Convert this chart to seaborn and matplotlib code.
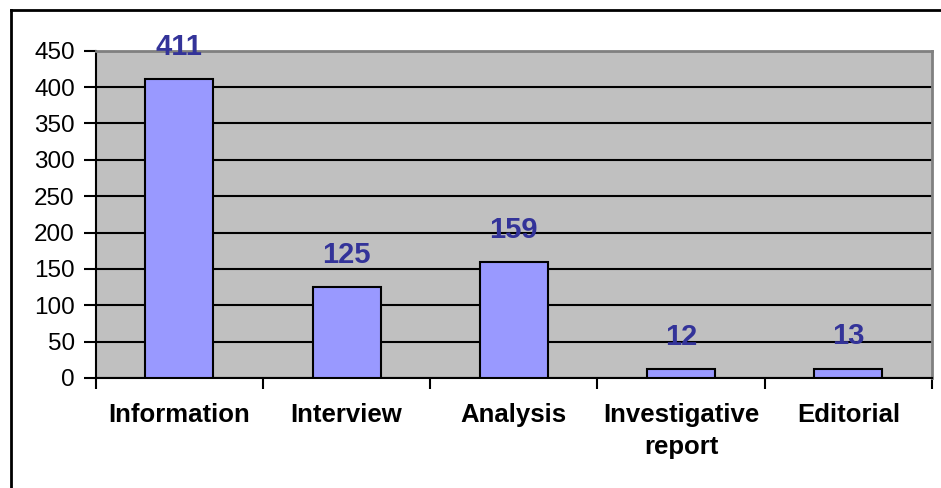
import pandas as pd
import seaborn as sns
import matplotlib.pyplot as plt
from matplotlib.lines import Line2D

categories = ["Information", "Interview", "Analysis", "Investigative\nreport", "Editorial"]
counts = [411, 125, 159, 12, 13]
yticks = [0, 50, 100, 150, 200, 250, 300, 350, 400, 450]

data = pd.DataFrame({"type": categories, "count": counts})

plt.rcParams["font.family"] = ["Liberation Sans", "DejaVu Sans"]

fig = plt.figure(figsize=(9.41, 4.88), dpi=100)
ax = fig.add_axes([95.7 / 941, 1 - 378 / 488, (932 - 95.7) / 941, (378 - 50.7) / 488])

sns.barplot(data=data, x="type", y="count", color="#9999FF", saturation=1,
            width=0.406, edgecolor="black", linewidth=1.5, zorder=3, ax=ax)

ax.set_facecolor("#C0C0C0")
ax.set_ylim(0, 450)
ax.set_xlim(-0.5, 4.5)
ax.set_yticks(yticks)
ax.grid(axis="y", color="black", linewidth=1.5, zorder=1)
ax.set_axisbelow(True)
ax.set_xlabel("")
ax.set_ylabel("")

# ticks between categories
ax.set_xticks([i + 0.5 for i in range(-1, 5)], minor=False)
ax.set_xticklabels([])
ax.set_xticks(range(5), minor=True)
ax.set_xticklabels(categories, minor=True, fontsize=18.5, fontweight="bold", linespacing=1.4)
ax.tick_params(axis="x", which="minor", length=0, pad=18)
ax.tick_params(axis="x", which="major", length=8, width=1.5, color="black")
ax.tick_params(axis="y", length=9, width=1.5, pad=6, labelsize=17.5, color="black")

for side in ["top", "right"]:
    ax.spines[side].set_color("#808080")
    ax.spines[side].set_linewidth(2)
for side in ["left", "bottom"]:
    ax.spines[side].set_color("black")
    ax.spines[side].set_linewidth(1.5)

for i, v in enumerate(counts):
    ax.annotate(str(v), (i, v), xytext=(0, 13), textcoords="offset points",
                ha="center", va="bottom", fontsize=21, fontweight="bold",
                color="#333399", annotation_clip=False, zorder=5)

# outer frame (top and left edges)
fig.add_artist(Line2D([11 / 941, 1], [1 - 10 / 488, 1 - 10 / 488], color="black", linewidth=2,
                      transform=fig.transFigure))
fig.add_artist(Line2D([11 / 941, 11 / 941], [0, 1 - 10 / 488], color="black", linewidth=2,
                      transform=fig.transFigure))

fig.savefig("out.png", dpi=100)
